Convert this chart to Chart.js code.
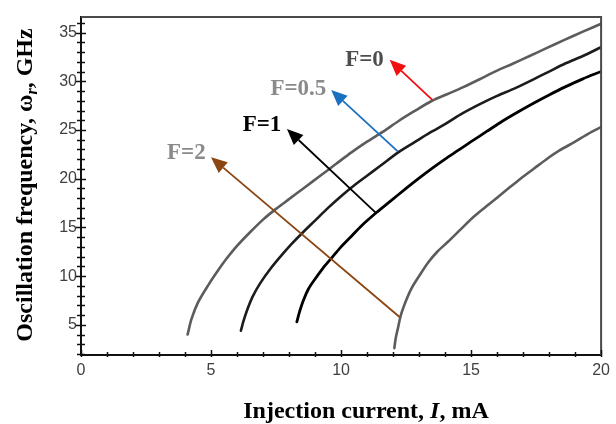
<!DOCTYPE html>
<html><head><meta charset="utf-8">
<style>html,body{margin:0;padding:0;background:#fff}canvas{display:block}</style>
<script src="https://cdn.jsdelivr.net/npm/chart.js@4"></script>
</head><body>
<canvas id="c" width="616" height="424"></canvas>
<script>
// ---- data ----
const currentF0 = [4.1,4.25,4.5,4.9,5.3,5.6,6.0,6.5,7.0,7.5,8.0,8.6,9.2,9.8,10.4,11.0,11.6,12.2,12.8,13.5,14.1,14.7,15.4,16.0,16.6,17.25,17.9,18.55,19.3,20.0];
const freqF0    = [4.0,5.6,7.3,9.1,10.7,11.8,13.1,14.5,15.8,16.9,17.9,19.1,20.3,21.5,22.7,23.8,24.8,25.9,26.9,28.0,28.7,29.4,30.3,31.1,31.8,32.6,33.4,34.2,35.1,35.9];

const currentF05 = [6.15,6.25,6.4,6.6,6.9,7.3,7.7,8.1,8.5,9.0,9.5,10.0,10.5,11.0,11.5,12.2,12.8,13.4,14.0,14.6,15.3,16.0,16.7,17.4,18.0,18.6,19.3,20.0];
const freqF05    = [4.4,5.4,6.6,7.9,9.3,10.8,12.1,13.3,14.4,15.7,17.0,18.2,19.3,20.3,21.3,22.7,23.7,24.7,25.6,26.6,27.6,28.5,29.3,30.2,31.0,31.8,32.6,33.5];

const currentF1 = [8.3,8.4,8.55,8.75,9.0,9.3,9.65,10.0,10.4,10.8,11.35,11.9,12.5,13.0,13.5,14.0,14.5,15.0,15.6,16.2,16.8,17.4,18.0,18.6,19.3,20.0];
const freqF1    = [5.3,6.3,7.5,8.7,9.7,10.8,11.9,13.0,14.1,15.2,16.5,17.7,19.0,20.05,21.05,22.0,22.9,23.8,24.85,25.9,26.85,27.75,28.6,29.4,30.25,31.0];

const currentF2 = [12.05,12.1,12.2,12.3,12.5,12.7,13.0,13.35,13.7,14.1,14.6,15.1,15.7,16.3,16.9,17.4,17.9,18.4,19.0,19.5,20.0];
const freqF2    = [2.6,3.6,4.8,6.0,7.5,8.7,10.0,11.4,12.5,13.5,14.8,16.1,17.4,18.7,20.0,21.0,22.0,22.9,23.8,24.6,25.3];

const xTickValues = [0,1,2,3,4,5,6,7,8,9,10,11,12,13,14,15,16,17,18,19,20];
const yTickValues = [2,3,4,5,6,7,8,9,10,11,12,13,14,15,16,17,18,19,20,21,22,23,24,25,26,27,28,29,30,31,32,33,34,35,36];

// annotation arrows: [fromI, fromW, toI, toW]
const arrowF0  = [13.51, 28.1, 11.87, 32.2];
const arrowF05 = [12.18, 22.8, 9.62, 29.1];
const arrowF1  = [11.34, 16.5, 7.92, 25.1];
const arrowF2  = [12.25, 5.8, 5.0, 22.2];
// annotation labels: [text, I, W]
const labelF0  = ['F=0', 10.9, 32.2];
const labelF05 = ['F=0.5', 8.36, 29.2];
const labelF1  = ['F=1', 6.96, 25.5];
const labelF2  = ['F=2', 4.05, 22.6];

const toPts = (xs, ys) => xs.map((x, i) => ({x, y: ys[i]}));

function drawArrow(ctx, x1, y1, x2, y2, color) {
  const ang = Math.atan2(y2 - y1, x2 - x1);
  const hl = 16, hw = 7;
  const bx = x2 - hl * Math.cos(ang), by = y2 - hl * Math.sin(ang);
  ctx.strokeStyle = color; ctx.fillStyle = color; ctx.lineWidth = 1.8;
  ctx.beginPath(); ctx.moveTo(x1, y1); ctx.lineTo(bx, by); ctx.stroke();
  ctx.beginPath();
  ctx.moveTo(x2, y2);
  ctx.lineTo(bx + hw * Math.sin(ang), by - hw * Math.cos(ang));
  ctx.lineTo(bx - hw * Math.sin(ang), by + hw * Math.cos(ang));
  ctx.closePath(); ctx.fill();
}

const decor = {
  id: 'decor',
  afterDraw(chart) {
    const {ctx, chartArea: a, scales: {x, y}} = chart;
    ctx.save();
    // frame top/right
    ctx.strokeStyle = '#4a4a4a'; ctx.lineWidth = 2;
    ctx.beginPath(); ctx.moveTo(a.left, a.top); ctx.lineTo(a.right, a.top); ctx.lineTo(a.right, a.bottom); ctx.stroke();
    // tick marks
    ctx.strokeStyle = '#111'; ctx.lineWidth = 1.5;
    yTickValues.forEach(v => {
      const py = Math.round(y.getPixelForValue(v)) + 0.5;
      const L = v % 5 === 0 ? 5 : 4;
      ctx.beginPath(); ctx.moveTo(a.left - L, py); ctx.lineTo(a.left + L, py); ctx.stroke();
    });
    xTickValues.forEach(v => {
      const px = Math.round(x.getPixelForValue(v)) + 0.5;
      const up = v % 5 === 0 ? 5 : 3;
      ctx.beginPath(); ctx.moveTo(px, a.bottom - up); ctx.lineTo(px, a.bottom + 2); ctx.stroke();
    });
    // arrows
    [[arrowF0, '#f01010'], [arrowF05, '#1b70c0'], [arrowF1, '#000000'], [arrowF2, '#8b4510']].forEach(([ar, c]) => {
      drawArrow(ctx, x.getPixelForValue(ar[0]), y.getPixelForValue(ar[1]),
                     x.getPixelForValue(ar[2]), y.getPixelForValue(ar[3]), c);
    });
    // labels
    ctx.font = 'bold 23px "Liberation Serif", "Times New Roman", serif';
    ctx.textAlign = 'center'; ctx.textBaseline = 'middle';
    [[labelF0, '#4e4e4e'], [labelF05, '#8a8a8a'], [labelF1, '#000'], [labelF2, '#8a8a8a']].forEach(([l, c]) => {
      ctx.fillStyle = c;
      ctx.fillText(l[0], x.getPixelForValue(l[1]), y.getPixelForValue(l[2]));
    });
    // axis titles
    ctx.fillStyle = '#000';
    const bold = 'bold 24px "Liberation Serif", "Times New Roman", serif';
    const boldIt = 'italic bold 24px "Liberation Serif", "Times New Roman", serif';
    const subIt = 'italic bold 16px "Liberation Serif", "Times New Roman", serif';
    ctx.textBaseline = 'alphabetic'; ctx.textAlign = 'left';
    // x title
    const xp = [['Injection current, ', bold], ['I', boldIt], [', mA', bold]];
    let tw = 0; xp.forEach(([t, f]) => { ctx.font = f; tw += ctx.measureText(t).width; });
    let cx = 366 - tw / 2;
    xp.forEach(([t, f]) => { ctx.font = f; ctx.fillText(t, cx, 418); cx += ctx.measureText(t).width; });
    // y title
    ctx.translate(32, 185); ctx.rotate(-Math.PI / 2);
    const yp = [['Oscillation frequency, \u03c9', bold, 0], ['r', subIt, 5], [', GHz', bold, 0]];
    tw = 0; yp.forEach(([t, f]) => { ctx.font = f; tw += ctx.measureText(t).width; });
    cx = -tw / 2;
    yp.forEach(([t, f, dy]) => { ctx.font = f; ctx.fillText(t, cx, dy); cx += ctx.measureText(t).width; });
    ctx.restore();
  }
};

const lineDs = (label, xs, ys, color, w) => ({
  label, data: toPts(xs, ys), showLine: true, borderColor: color, borderWidth: w,
  pointRadius: 0, fill: false, tension: 0.3, borderJoinStyle: 'round', borderCapStyle: 'round'
});

new Chart(document.getElementById('c'), {
  type: 'scatter',
  data: {
    datasets: [
      lineDs('F=0', currentF0, freqF0, '#5c5c5c', 2.6),
      lineDs('F=0.5', currentF05, freqF05, '#1c1c1c', 2.6),
      lineDs('F=1', currentF1, freqF1, '#000000', 2.8),
      lineDs('F=2', currentF2, freqF2, '#5c5c5c', 2.6)
    ]
  },
  options: {
    responsive: false, animation: false, devicePixelRatio: 1,
    layout: {padding: {left: 0, right: 11, top: 17, bottom: 0}},
    plugins: {legend: {display: false}, tooltip: {enabled: false}},
    scales: {
      x: {
        type: 'linear', min: 0, max: 20,
        afterBuildTicks: s => { s.ticks = xTickValues.map(v => ({value: v})); },
        afterFit: s => { s.height = 69; },
        grid: {display: false, drawTicks: false},
        border: {display: true, color: '#111', width: 2},
        ticks: {autoSkip: false, maxRotation: 0, padding: 6, color: '#404040',
          font: {family: '"Liberation Sans", Arial, sans-serif', size: 16},
          callback: v => (v % 5 === 0 ? String(v) : '')}
      },
      y: {
        type: 'linear', min: 1.9, max: 36.6,
        afterBuildTicks: s => { s.ticks = yTickValues.map(v => ({value: v})); },
        afterFit: s => { s.width = 81; },
        grid: {display: false, drawTicks: false},
        border: {display: true, color: '#111', width: 2},
        ticks: {autoSkip: false, padding: 4, color: '#404040',
          font: {family: '"Liberation Sans", Arial, sans-serif', size: 16},
          callback: v => (v % 5 === 0 ? String(v) : '')}
      }
    }
  },
  plugins: [decor]
});
</script>
</body></html>
